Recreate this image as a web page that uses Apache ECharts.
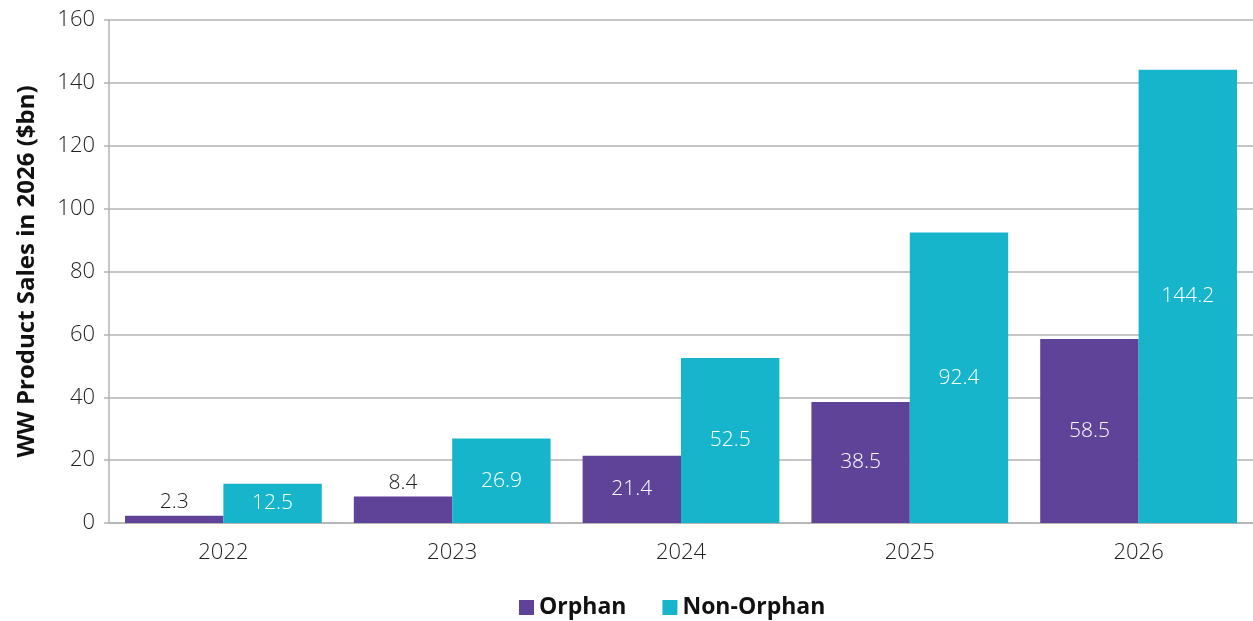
<!DOCTYPE html>
<html>
<head>
<meta charset="utf-8">
<script src="https://cdn.jsdelivr.net/npm/echarts@6/dist/echarts.min.js"></script>
<style>
  html, body { margin: 0; padding: 0; background: #fff; }
  #chart { width: 1253px; height: 621px; }
</style>
</head>
<body>
<div id="chart"></div>
<script>
var years = ['2022', '2023', '2024', '2025', '2026'];
var orphan = [2.3, 8.4, 21.4, 38.5, 58.5];
var nonOrphan = [12.5, 26.9, 52.5, 92.4, 144.2];
var seriesNames = ['Orphan', 'Non-Orphan'];
var yTicks = [0, 20, 40, 60, 80, 100, 120, 140, 160];

var font = '"Open Sans", Lato, sans-serif';

// small bars get their label above the bar in dark text
function withLabels(values) {
    return values.map(function (v) {
        if (v < 10) {
            return {
                value: v,
                label: { position: 'top', color: '#222', distance: 3 }
            };
        }
        return v;
    });
}

var option = {
    animation: false,
    textStyle: { fontFamily: font },
    grid: {
        left: 109,
        right: 0,
        top: 20,
        bottom: 98
    },
    legend: {
        data: seriesNames,
        top: 591,
        left: 514,
        itemWidth: 15,
        itemHeight: 15,
        itemGap: 36,
        icon: 'rect',
        textStyle: {
            fontFamily: font,
            fontSize: 23,
            fontWeight: 'bold',
            color: '#111'
        }
    },
    xAxis: {
        type: 'category',
        data: years,
        axisLine: { lineStyle: { color: '#b3b3b3', width: 1.5 } },
        axisTick: { length: 6, lineStyle: { color: '#b3b3b3', width: 1.5 } },
        axisLabel: { fontSize: 22, fontWeight: 300, color: '#222', margin: 19 }
    },
    yAxis: {
        type: 'value',
        min: yTicks[0],
        max: yTicks[yTicks.length - 1],
        interval: 20,
        name: 'WW Product Sales in 2026 ($bn)',
        nameLocation: 'middle',
        nameGap: 70,
        nameTextStyle: {
            fontFamily: font,
            fontSize: 24,
            fontWeight: 'bold',
            color: '#111'
        },
        axisLine: { show: true, lineStyle: { color: '#b3b3b3', width: 1.5 } },
        axisTick: { show: true, length: 5, lineStyle: { color: '#b3b3b3', width: 1.5 } },
        axisLabel: { fontSize: 22, fontWeight: 300, color: '#222', margin: 14 },
        splitLine: { lineStyle: { color: '#b3b3b3', width: 1.5 } }
    },
    series: [
        {
            name: seriesNames[0],
            type: 'bar',
            data: withLabels(orphan),
            barGap: 0,
            barCategoryGap: '14%',
            itemStyle: { color: '#5f4398' },
            label: {
                show: true,
                position: 'inside',
                color: '#fff',
                fontSize: 21,
                fontWeight: 300,
                fontFamily: font
            }
        },
        {
            name: seriesNames[1],
            type: 'bar',
            data: withLabels(nonOrphan),
            barGap: 0,
            barCategoryGap: '14%',
            itemStyle: { color: '#17b5cb' },
            label: {
                show: true,
                position: 'inside',
                color: '#fff',
                fontSize: 21,
                fontWeight: 300,
                fontFamily: font
            }
        }
    ]
};

var myChart = echarts.init(document.getElementById('chart'));
myChart.setOption(option);
</script>
</body>
</html>
